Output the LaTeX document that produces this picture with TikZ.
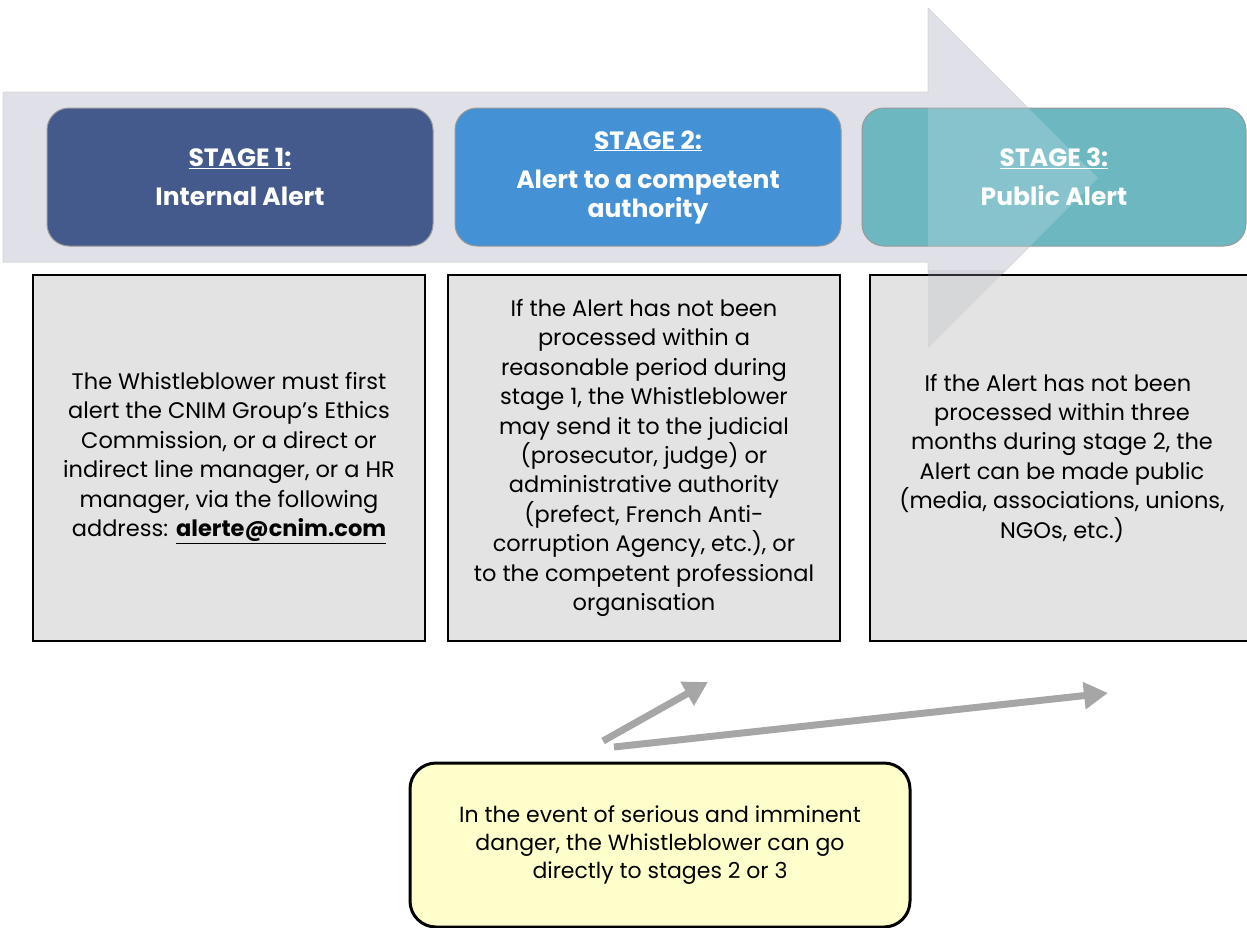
\documentclass[tikz,border=0pt]{standalone}
\usepackage{fontspec}
\setmainfont{Poppins}
\usepackage{xcolor}
\usetikzlibrary{positioning, arrows.meta}

\definecolor{stageone}{HTML}{44598C}
\definecolor{stagetwo}{HTML}{4491D5}
\definecolor{stagethree}{HTML}{6DB7C1}
\definecolor{bandgray}{HTML}{E0E1E8}
\definecolor{boxgray}{HTML}{E3E3E3}
\definecolor{noteyellow}{HTML}{FFFFCC}
\definecolor{jumpgray}{HTML}{A6A6A6}

\begin{document}
\begin{tikzpicture}[
  x=1pt, y=-1pt,
  stagebox/.style = {
    rectangle, draw=black!40, line width=1pt,
    rounded corners=22pt, align=center, text=white,
    minimum width=386pt, minimum height=138pt,
    font=\fontsize{25}{29}\selectfont\bfseries},
  infobox/.style = {
    rectangle, draw=black, line width=1.4pt, fill=boxgray,
    align=center, inner sep=0pt,
    minimum height=366pt,
    font=\fontsize{22.5}{29.4}\selectfont},
  notebox/.style = {
    rectangle, draw=black, line width=3pt, fill=noteyellow,
    rounded corners=26pt, align=center,
    minimum width=500pt, minimum height=164pt,
    font=\fontsize{22}{28}\selectfont},
  jump/.style = {draw=jumpgray, line width=7pt,
    -{Triangle[length=24pt,width=26pt]}}
]
\useasboundingbox (0,0) rectangle (1247,927);

%── Process band arrow ───────────────────────────────────────────
\fill[bandgray, draw=black!15, line width=1pt]
  (3,92) -- (928,92) -- (928,8) -- (1098,178) -- (928,348)
  -- (928,262) -- (3,262) -- cycle;

%── Stage nodes ──────────────────────────────────────────────────
\node[stagebox, fill=stageone] (S1) at (240,177)
  {\underline{STAGE 1:}\\[10pt]Internal Alert};
\node[stagebox, fill=stagetwo] (S2) at (648,177)
  {\underline{STAGE 2:}\\[10pt]Alert to a competent\\authority};
\node[stagebox, fill=stagethree, minimum width=384pt] (S3) at (1054,177)
  {\underline{STAGE 3:}\\[10pt]Public Alert};

%── Description nodes ────────────────────────────────────────────
\node[infobox, minimum width=392pt] (D1) at (229,458)
  {The Whistleblower must first\\
   alert the CNIM Group's Ethics\\
   Commission, or a direct or\\
   indirect line manager, or a HR\\
   manager, via the following\\
   address: \textbf{\underline{alerte@cnim.com}}};

\node[infobox, minimum width=392pt] (D2) at (644,458)
  {If the Alert has not been\\
   processed within a\\
   reasonable period during\\
   stage 1, the Whistleblower\\
   may send it to the judicial\\
   (prosecutor, judge) or\\
   administrative authority\\
   (prefect, French Anti-\\
   corruption Agency, etc.), or\\
   to the competent professional\\
   organisation};

\node[infobox, minimum width=384pt] (D3) at (1062,458)
  {\hspace*{-8pt}If the Alert has not been\\
   processed within three\\
   months during stage 2, the\\
   Alert can be made public\\
   (media, associations, unions,\\
   NGOs, etc.)};

%── Arrow head seen through stage 3 and description 3 ────────────
\begin{scope}
  \clip[rounded corners=22pt] (S3.south west) rectangle (S3.north east);
  \fill[white, fill opacity=0.18]
    (928,8) -- (1098,178) -- (928,348) -- cycle;
\end{scope}
\begin{scope}
  \clip (900,270) rectangle (1100,360);
  \fill[bandgray!80!black, fill opacity=0.25]
    (928,8) -- (1098,178) -- (928,348) -- cycle;
\end{scope}

%── Serious danger note ──────────────────────────────────────────
\node[notebox] (N) at (660,845)
  {In the event of serious and imminent\\
   danger, the Whistleblower can go\\
   directly to stages 2 or 3};

%── Direct jumps ─────────────────────────────────────────────────
\coordinate (J1) at (603,741);
\coordinate (J2) at (614,747);
\coordinate (T2) at (708,682);
\coordinate (T3) at (1108,693);
\draw[jump] (J1) -- (T2);
\draw[jump] (J2) -- (T3);

\end{tikzpicture}
\end{document}
